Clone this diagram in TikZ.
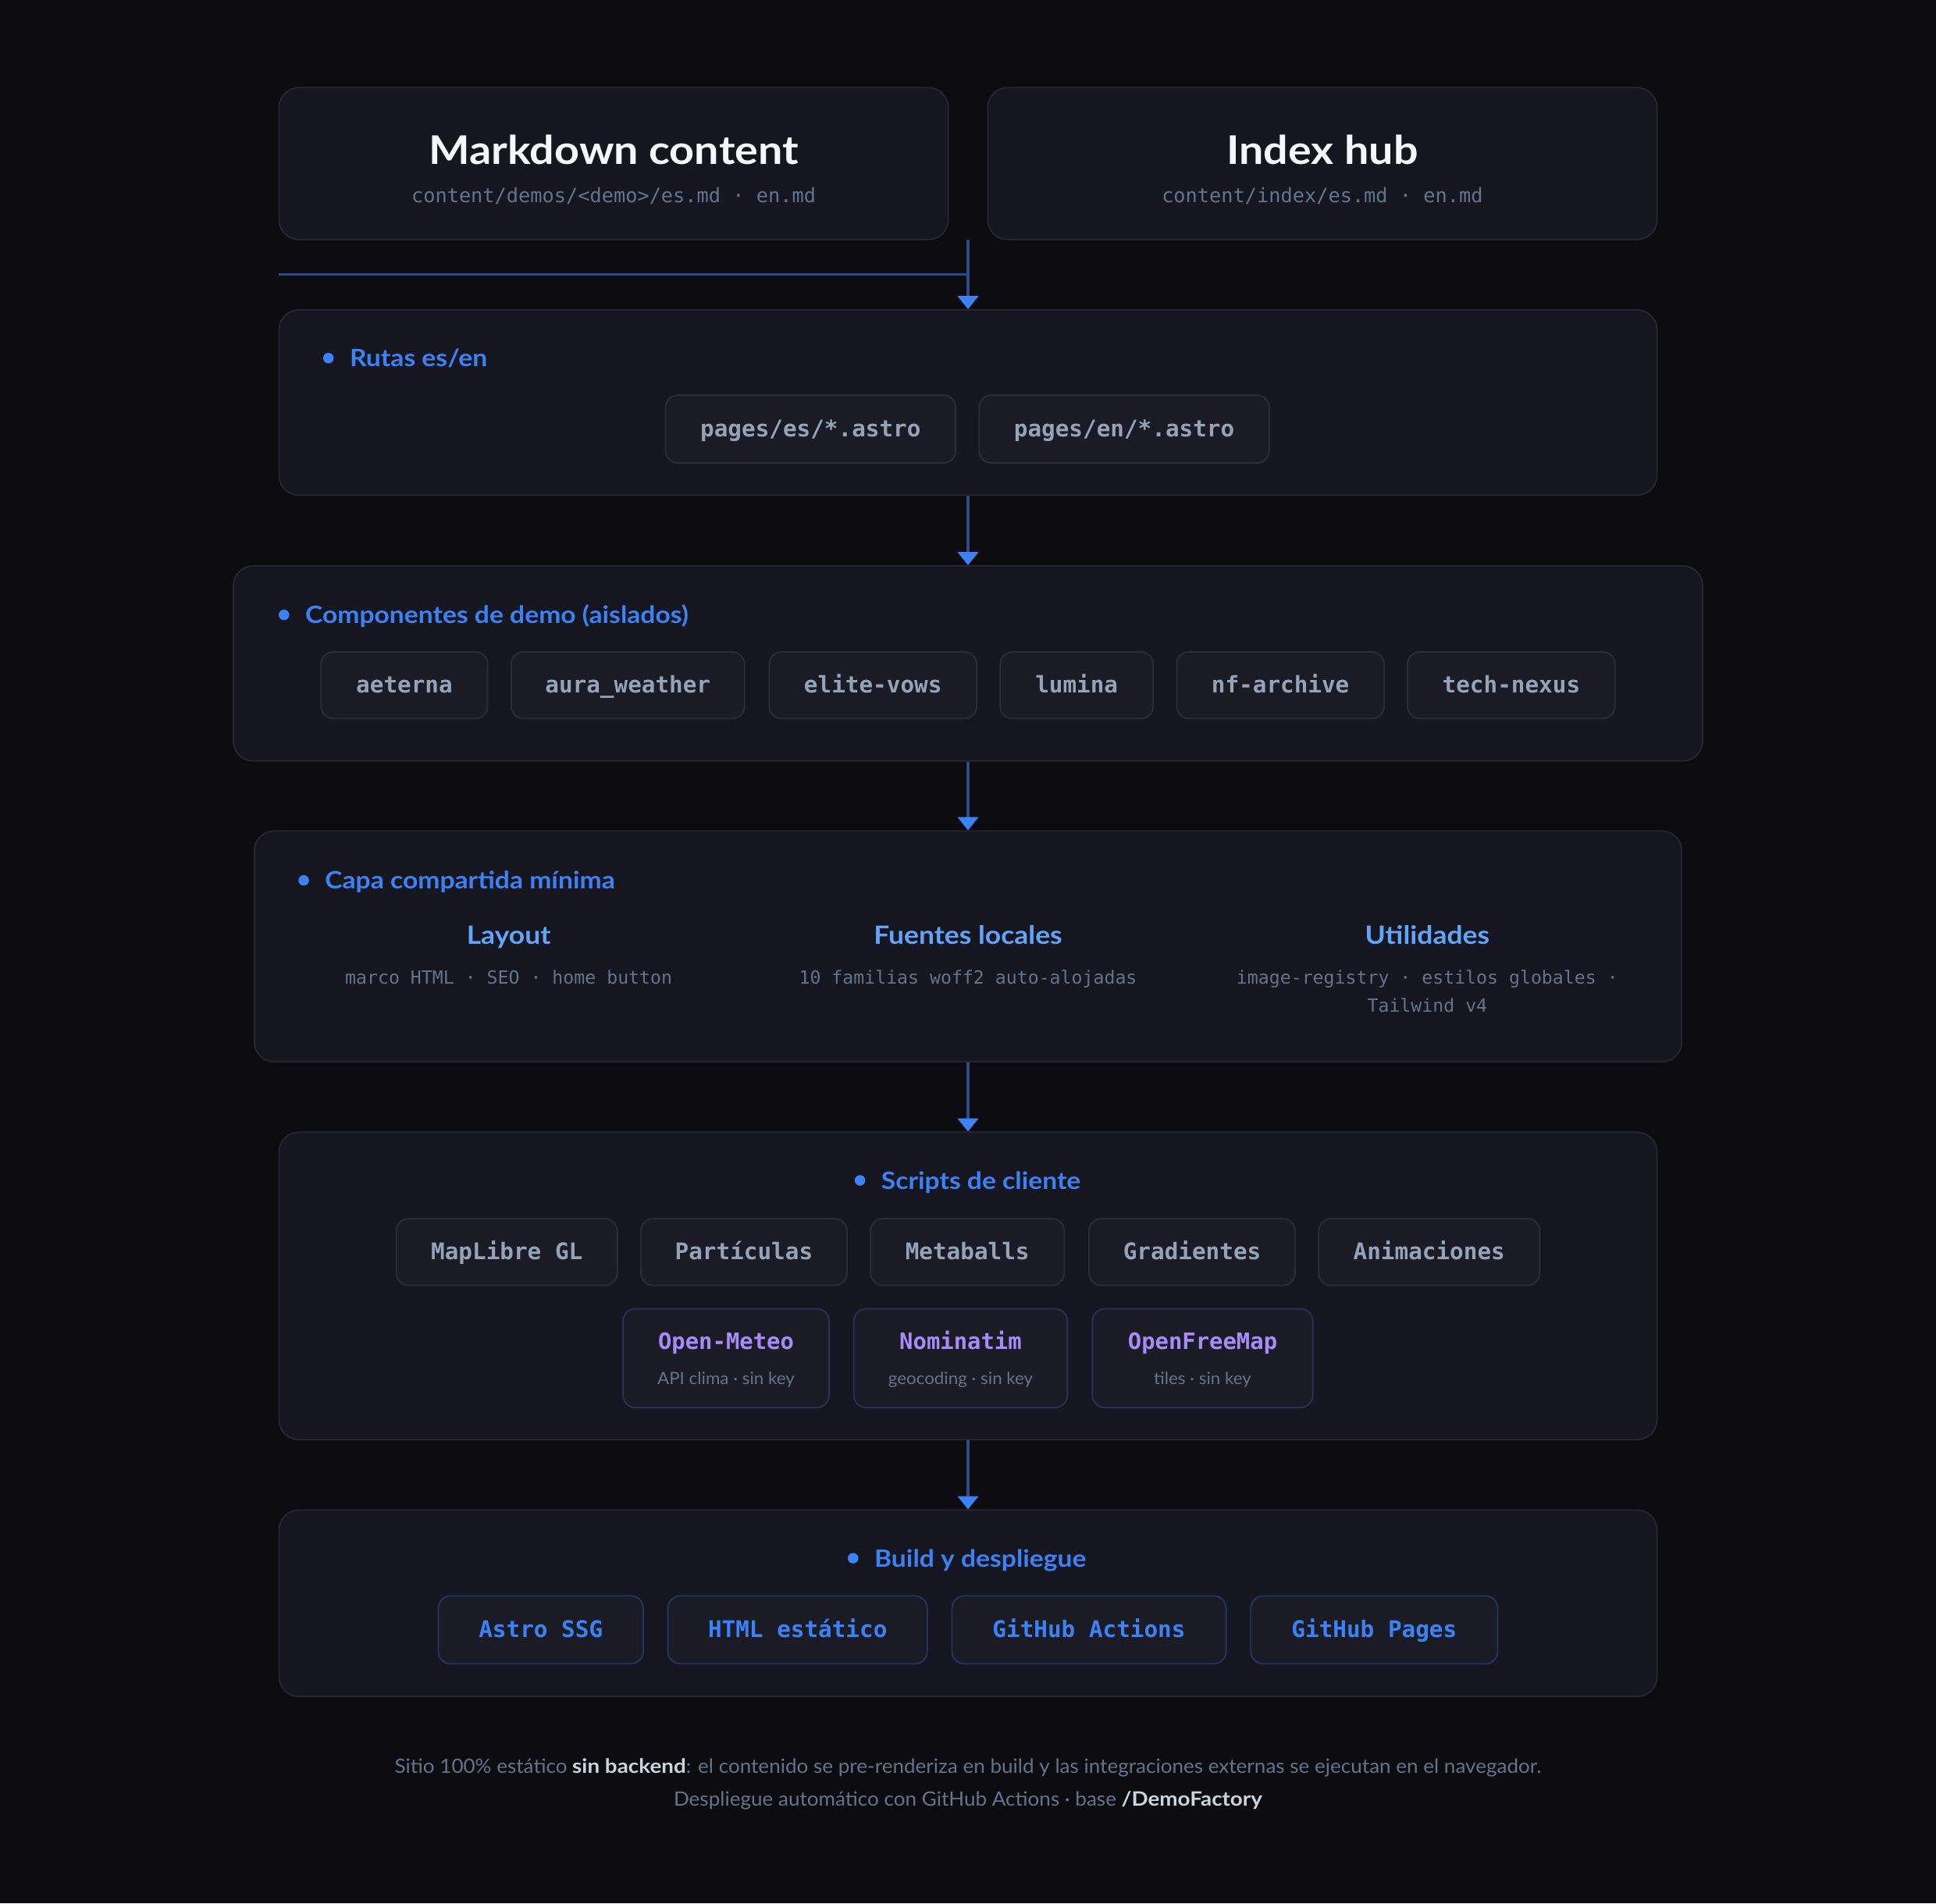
\documentclass[tikz,border=0pt]{standalone}
\usepackage{fontspec}
\setmainfont{Lato}[UprightFeatures={FakeStretch=1.03}, BoldFeatures={FakeStretch=1.1}]
\newfontfamily\monof{DejaVu Sans Mono}
\usetikzlibrary{arrows.meta}
\definecolor{bgc}{HTML}{0B0B10}
\definecolor{panelfill}{HTML}{15161F}
\definecolor{panelborder}{HTML}{25262F}
\definecolor{chipfill}{HTML}{1A1B24}
\definecolor{chipborder}{HTML}{2B2C36}
\definecolor{purpborder}{HTML}{342B58}
\definecolor{blueborder}{HTML}{1E3662}
\definecolor{accent}{HTML}{3B82F6}
\definecolor{accentlt}{HTML}{60A5FA}
\definecolor{titlecol}{HTML}{F5F7FA}
\definecolor{subgrey}{HTML}{64748B}
\definecolor{chipgrey}{HTML}{94A3B8}
\definecolor{purp}{HTML}{A78BFA}
\definecolor{footbold}{HTML}{CBD5E1}
\definecolor{connc}{HTML}{2A4A88}
\begin{document}
\begin{tikzpicture}[x=0.75pt,y=-0.75pt,
  wh/.style 2 args={minimum width={#1*0.75pt}, minimum height={#2*0.75pt}},
  panel/.style={draw=panelborder, fill=panelfill, line width=0.9pt, rounded corners=12pt, inner sep=0pt},
  chip/.style={draw=chipborder, fill=chipfill, line width=0.9pt, rounded corners=7.5pt, inner sep=0pt,
    font=\monof\fontsize{13.9}{16}\selectfont\bfseries, text=chipgrey, text height=9pt, text depth=0pt},
  pchip/.style={chip, draw=purpborder},
  bchip/.style={chip, draw=blueborder, text=accent},
  title/.style={font=\fontsize{24}{28}\selectfont\bfseries, text=titlecol, anchor=base, inner sep=0pt},
  sub/.style={font=\monof\fontsize{12}{14}\selectfont, text=subgrey, anchor=base, inner sep=0pt},
  lab/.style={font=\fontsize{14.5}{17}\selectfont\bfseries, text=accent, anchor=base west, inner sep=0pt},
  clab/.style={lab, anchor=base},
  head/.style={font=\fontsize{15.3}{18}\selectfont\bfseries, text=accentlt, anchor=base, inner sep=0pt},
  msub/.style={font=\monof\fontsize{11}{13}\selectfont, text=subgrey, anchor=base, inner sep=0pt},
  ptitle/.style={font=\monof\fontsize{13.7}{16}\selectfont\bfseries, text=purp, anchor=base, inner sep=0pt},
  psub/.style={font=\fontsize{10.3}{12}\selectfont, text=subgrey, anchor=base, inner sep=0pt},
  foot/.style={font=\fontsize{12}{14}\selectfont, text=subgrey, anchor=base, inner sep=0pt},
  bul/.style={fill=accent},
  conn/.style={draw=connc, line width=1.5pt},
  arr/.style={-{Triangle[width=12.5pt,length=8pt,color=accent]}}
]
\useasboundingbox (0,0) rectangle (1568,1541.5);
\fill[bgc] (0,0) rectangle (1568,1541.5);

% top boxes
\node[panel, wh={542}{123}] (md) at (497,132.5) {};
\node[panel, wh={542}{123}] (ix) at (1071,132.5) {};
\node[title] (mdt) at (497,133) {Markdown content};
\node[sub] (mds) at (497,164) {content/demos/<demo>/es.md · en.md};
\node[title] (ixt) at (1071,133) {Index hub};
\node[sub] (ixs) at (1071,164) {content/index/es.md · en.md};

% panels
\node[panel, wh={1116}{150}] (rut) at (784,326) {};
\node[panel, wh={1190}{158}] (comp) at (784,537.3) {};
\node[panel, wh={1156}{187}] (capa) at (784,766.5) {};
\node[panel, wh={1116}{249}] (scr) at (784,1041.5) {};
\node[panel, wh={1116}{151}] (bld) at (784,1298.5) {};

% connectors
\coordinate (split) at (784,194);
\coordinate (hstart) at (226,222);
\coordinate (join) at (784,222);
\draw[conn] (hstart) -- (join);
\draw[conn, arr] (split) -- (rut.north);
\draw[conn, arr] (rut.south) -- (comp.north);
\draw[conn, arr] (comp.south) -- (capa.north);
\draw[conn, arr] (capa.south) -- (scr.north);
\draw[conn, arr] (scr.south) -- (bld.north);

% Rutas
\node[lab] (rutl) at (283,297) {Rutas es/en};
\fill[bul] (rutl.base west) ++(-17,-7) circle[radius=3.2pt];
\node[chip, wh={235}{55}] (pes) at (656.5,347.5) {pages/es/*.astro};
\node[chip, wh={235}{55}] (pen) at (910.5,347.5) {pages/en/*.astro};

% Componentes
\node[lab] (compl) at (247,505) {Componentes de demo (aislados)};
\fill[bul] (compl.base west) ++(-17,-7) circle[radius=3.2pt];
\node[chip, wh={135}{54}] (c1) at (327.5,555) {aeterna};
\node[chip, wh={189}{54}] (c2) at (508.5,555) {aura\_weather};
\node[chip, wh={168}{54}] (c3) at (707,555) {elite-vows};
\node[chip, wh={124}{54}] (c4) at (872,555) {lumina};
\node[chip, wh={168}{54}] (c5) at (1037,555) {nf-archive};
\node[chip, wh={168}{54}] (c6) at (1224,555) {tech-nexus};

% Capa compartida
\node[lab] (capal) at (263,720) {Capa compartida mínima};
\fill[bul] (capal.base west) ++(-17,-7) circle[radius=3.2pt];
\node[head] (lay) at (412,765) {Layout};
\node[msub] (lays) at (412,797) {marco HTML · SEO · home button};
\node[head] (fue) at (784,765) {Fuentes locales};
\node[msub] (fues) at (784,797) {10 familias woff2 auto-alojadas};
\node[head] (uti) at (1156,765) {Utilidades};
\node[msub] (utis) at (1156,797) {image-registry · estilos globales ·};
\node[msub] (utis2) at (1156,820) {Tailwind v4};

% Scripts de cliente
\node[clab] (scrl) at (794.5,963) {Scripts de cliente};
\fill[bul] (scrl.base west) ++(-17,-7) circle[radius=3.2pt];
\node[chip, wh={179}{54}] (s1) at (410.5,1014) {MapLibre GL};
\node[chip, wh={167}{54}] (s2) at (602.5,1014) {Partículas};
\node[chip, wh={157}{54}] (s3) at (783.5,1014) {Metaballs};
\node[chip, wh={167}{54}] (s4) at (965.5,1014) {Gradientes};
\node[chip, wh={179}{54}] (s5) at (1157.5,1014) {Animaciones};
\node[pchip, wh={167}{80}] (e1) at (588,1100) {};
\node[pchip, wh={173}{80}] (e2) at (778,1100) {};
\node[pchip, wh={178.5}{80}] (e3) at (974,1100) {};
\node[ptitle] (e1t) at (588,1093) {Open-Meteo};
\node[psub] (e1s) at (588,1121) {API clima · sin key};
\node[ptitle] (e2t) at (778,1093) {Nominatim};
\node[psub] (e2s) at (778,1121) {geocoding · sin key};
\node[ptitle] (e3t) at (974,1093) {OpenFreeMap};
\node[psub] (e3s) at (974,1121) {tiles · sin key};

% Build
\node[clab] (bldl) at (794,1269) {Build y despliegue};
\fill[bul] (bldl.base west) ++(-17,-7) circle[radius=3.2pt];
\node[bchip, wh={166}{55}] (b1) at (438,1320) {Astro SSG};
\node[bchip, wh={210}{55}] (b2) at (646,1320) {HTML estático};
\node[bchip, wh={222}{55}] (b3) at (882,1320) {GitHub Actions};
\node[bchip, wh={200}{55}] (b4) at (1113,1320) {GitHub Pages};

% footer
\node[foot] (f1) at (784,1436) {Sitio 100\% estático {\bfseries\color{footbold}sin backend}: el contenido se pre-renderiza en build y las integraciones externas se ejecutan en el navegador.};
\node[foot] (f2) at (784,1463) {Despliegue automático con GitHub Actions · base {\bfseries\color{footbold}/DemoFactory}};
\end{tikzpicture}
\end{document}
